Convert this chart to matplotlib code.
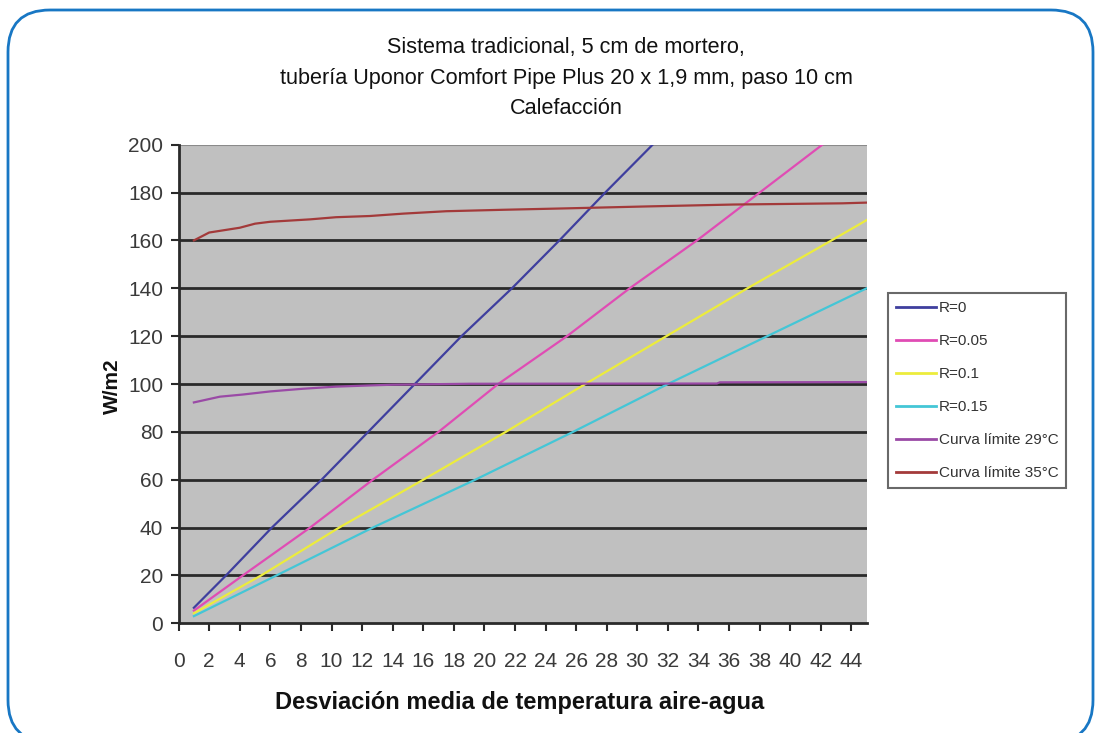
import matplotlib
matplotlib.use("Agg")
import matplotlib.pyplot as plt
from matplotlib.patches import FancyBboxPatch

# ---------------- data ----------------
title_lines = ["Sistema tradicional, 5 cm de mortero,",
               "tubería Uponor Comfort Pipe Plus 20 x 1,9 mm, paso 10 cm",
               "Calefacción"]
xlabel = "Desviación media de temperatura aire-agua"
ylabel = "W/m2"
xticks = list(range(0, 46, 2))
yticks = list(range(0, 201, 20))

labels = ["R=0", "R=0.05", "R=0.1", "R=0.15", "Curva límite 29°C", "Curva límite 35°C"]

x_r0 = [1, 3.1, 6.1, 9.35, 12.4, 15.45, 18.5, 21.8, 24.9, 27.9, 31.0]
y_r0 = [6.5, 20, 40, 60, 80, 100, 120, 140, 160, 180, 200]

x_r005 = [1, 4.2, 8.6, 12.7, 17.0, 20.9, 25.4, 29.5, 33.9, 38.0, 42.1]
y_r005 = [5.3, 20, 40, 60, 80, 100, 120, 140, 160, 180, 200]

x_r01 = [1, 5.4, 10.5, 16.0, 21.4, 26.6, 31.9, 37.2, 42.7, 45]
y_r01 = [4.2, 20, 40, 60, 80, 100, 120, 140, 160, 168.5]

x_r015 = [1, 6.4, 12.7, 19.4, 25.8, 32.0, 38.5, 45]
y_r015 = [3.0, 20, 40, 60, 80, 100, 120, 140]

x_l29 = [1, 2.7, 4.2, 6.0, 8.1, 10.3, 12.5, 14.0, 19.0, 35.2, 35.4, 45]
y_l29 = [92.3, 94.7, 95.6, 96.9, 98.0, 98.9, 99.4, 99.7, 100.1, 100.2, 100.7, 100.8]

x_l35 = [1, 2, 4, 5, 6, 8.6, 10.3, 12.5, 14.7, 17.5, 21.2, 25.4, 30.6, 36.3, 43.4, 45]
y_l35 = [160, 163.3, 165.3, 167, 167.8, 168.8, 169.7, 170.2, 171.2, 172.2, 172.8,
         173.4, 174.2, 175, 175.5, 175.8]

colors = ["#3f3f9e", "#e04cb4", "#ecec3c", "#44c6d6", "#9a4aa6", "#a33a3a"]

# ---------------- figure ----------------
plt.rcParams['font.family'] = ['Liberation Sans', 'DejaVu Sans']

W, H = 1098, 733
fig = plt.figure(figsize=(W / 100, H / 100), dpi=100)
fig.patch.set_facecolor("white")

# rounded frame (pixel coords, y up)
bg = fig.add_axes([0, 0, 1, 1], zorder=-5)
bg.set_xlim(0, W)
bg.set_ylim(0, H)
bg.axis("off")
frame = FancyBboxPatch((8, H - 742), 1085, 732, boxstyle="round,pad=0,rounding_size=42",
                       fill=False, edgecolor="#1877c4", linewidth=2.0, clip_on=False)
bg.add_patch(frame)

L, R, T, B = 178.6, 866.7, 144.7, 623.3
ax = fig.add_axes([L / W, 1 - B / H, (R - L) / W, (B - T) / H])
ax.set_facecolor("#c0c0c0")

xs = [x_r0, x_r005, x_r01, x_r015, x_l29, x_l35]
ys = [y_r0, y_r005, y_r01, y_r015, y_l29, y_l35]
for x, y, c, lab in zip(xs, ys, colors, labels):
    ax.plot(x, y, color=c, lw=1.6, label=lab, zorder=3, clip_on=True)

ax.set_xlim(0, 45)
ax.set_ylim(0, 200)
ax.set_xticks(xticks)
ax.set_yticks(yticks)
ax.set_xticklabels([str(v) for v in xticks])
ax.set_yticklabels([str(v) for v in yticks])
for yv in yticks[1:-1]:
    ax.axhline(yv, color="#2a2a2a", lw=2.0, zorder=2)
ax.axhline(200, color="#8a8a8a", lw=1.5, zorder=2)

for s in ["top", "right"]:
    ax.spines[s].set_visible(False)
for s in ["left", "bottom"]:
    ax.spines[s].set_color("#2a2a2a")
    ax.spines[s].set_linewidth(2.0)
ax.tick_params(axis="x", direction="out", length=6, width=1.5, color="#2a2a2a",
               labelsize=15, labelcolor="#3a3a3a", pad=15)
ax.tick_params(axis="y", direction="out", length=6, width=1.5, color="#2a2a2a",
               labelsize=15, labelcolor="#3a3a3a", pad=5)

fig.text(520 / W, 1 - 703 / H, xlabel, fontsize=17, fontweight="bold",
         color="#111111", ha="center", va="center")
fig.text(112 / W, 1 - 386 / H, ylabel, rotation=90, fontsize=15, fontweight="bold",
         color="#111111", ha="center", va="center")

# title lines, sized to match reference widths
renderer = fig.canvas.get_renderer()
target_w = 575.0
tts = []
for i, line in enumerate(title_lines):
    t = fig.text(566 / W, 1 - (48 + 30.5 * i) / H, line, ha="center", va="center",
                 fontsize=14, color="#111111")
    tts.append(t)
w2 = tts[1].get_window_extent(renderer).width
fs = 14 * target_w / w2
for t in tts:
    t.set_fontsize(fs)

leg = fig.legend(loc="upper left", bbox_to_anchor=(888.3 / W, 1 - 293.3 / H),
                 borderaxespad=0, frameon=True, fancybox=False,
                 handlelength=2.6, handletextpad=0.2, labelspacing=1.25,
                 borderpad=0.5, prop={"size": 11})
leg.get_frame().set_edgecolor("#444444")
leg.get_frame().set_linewidth(1.5)
for t in leg.get_texts():
    t.set_color("#333333")
for h in leg.get_lines():
    h.set_linewidth(2)

fig.savefig("out.png", dpi=100)
